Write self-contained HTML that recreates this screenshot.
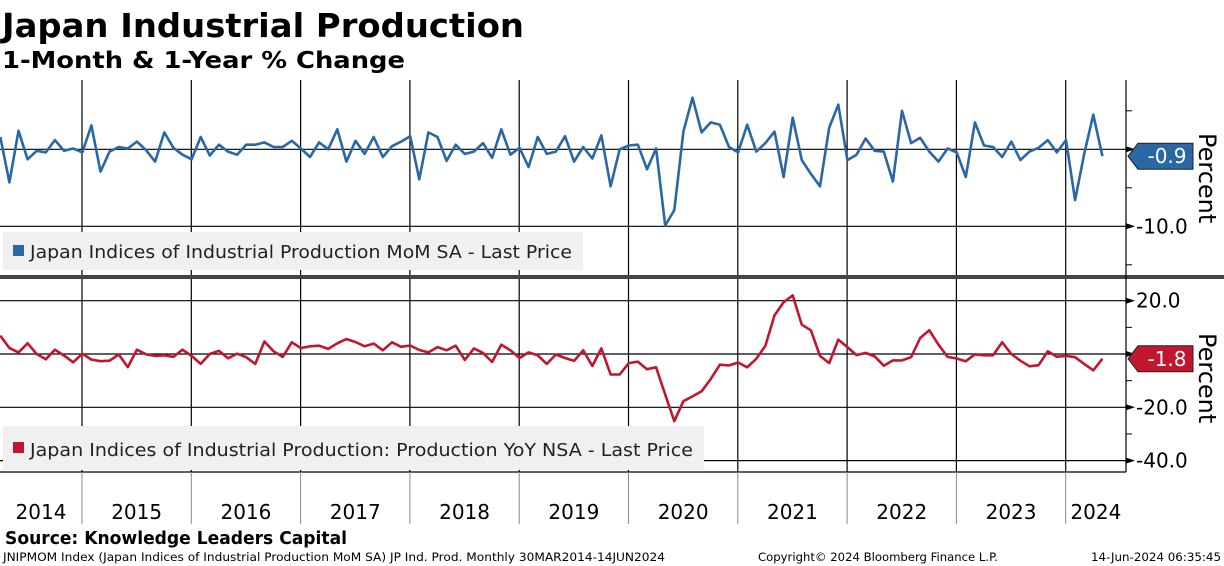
<!DOCTYPE html>
<html><head><meta charset="utf-8">
<style>
html,body{margin:0;padding:0;background:#fff;width:1224px;height:566px;overflow:hidden}
svg{display:block;font-family:"DejaVu Sans","Liberation Sans",sans-serif}
</style></head>
<body>
<svg id="c" width="1224" height="566" viewBox="0 0 1224 566" xmlns="http://www.w3.org/2000/svg">
<text x="2" y="37" font-size="33" font-weight="bold" textLength="522" lengthAdjust="spacingAndGlyphs">Japan Industrial Production</text>
<text x="2" y="68" font-size="23" font-weight="bold" textLength="403" lengthAdjust="spacingAndGlyphs">1-Month &amp; 1-Year % Change</text>
<g id="grid"></g>
<g id="series"></g>
<rect x="0" y="275" width="1224" height="4" fill="#444"/>
<rect x="3" y="232" width="580" height="38" fill="#f0f0f0"/>
<rect x="13" y="245" width="11" height="11" fill="#2a67a5"/>
<text x="30" y="258" font-size="18" textLength="542" lengthAdjust="spacingAndGlyphs" fill="#222">Japan Indices of Industrial Production MoM SA - Last Price</text>
<rect x="3" y="426" width="701" height="44" fill="#f0f0f0"/>
<rect x="13" y="442" width="11" height="11" fill="#c0172f"/>
<text x="30" y="456" font-size="18" textLength="663" lengthAdjust="spacingAndGlyphs" fill="#222">Japan Indices of Industrial Production: Production YoY NSA - Last Price</text>
<g id="axes"></g>
<text transform="translate(1199,133) rotate(90)" font-size="24">Percent</text>
<text transform="translate(1199,333) rotate(90)" font-size="24">Percent</text>
<text x="5" y="544" font-size="18" font-weight="bold" textLength="342" lengthAdjust="spacingAndGlyphs">Source: Knowledge Leaders Capital</text>
<text x="3" y="561" font-size="11.5" textLength="662" lengthAdjust="spacingAndGlyphs">JNIPMOM Index (Japan Indices of Industrial Production MoM SA) JP Ind. Prod.  Monthly 30MAR2014-14JUN2024</text>
<text x="758" y="561" font-size="11.5" textLength="240" lengthAdjust="spacingAndGlyphs">Copyright© 2024 Bloomberg Finance L.P.</text>
<text x="1091" y="561" font-size="11.5" textLength="130" lengthAdjust="spacingAndGlyphs">14-Jun-2024 06:35:45</text>
</svg>
<script>
const years = ["2014","2015","2016","2017","2018","2019","2020","2021","2022","2023","2024"];
const momValues = [1.6,-4.3,2.4,-1.3,-0.2,-0.4,1.2,-0.2,0.1,-0.4, 3.1,-2.9,-0.3,0.3,0.1,1.0,-0.1,-1.6,2.2,0.2, -0.7,-1.3,1.6,-0.8,0.6,-0.3,-0.7,0.6,0.6,0.9, 0.3,0.3,1.1,0.1,-1.0,0.9,0,2.6,-1.6,1.1, -0.6,1.6,-1.0,0.4,1.0,
 1.7,-3.9,2.2,1.6,-1.5,0.6,-0.6,-0.3,0.8,-1.1, 2.6,-0.7,0.2,-2.3,1.6,-0.6,-0.3,1.7,-1.6,0.3, -1.2,1.8,-4.8,0,0.5,0.6,-2.6,0.1,-9.9,-7.9, 2.3,6.7,2.2,3.5,3.2,0.3,-0.4,3.2,-0.3,0.8, 2.3,-3.6,4.1,-1.4,-3.2,
 -4.8,2.8,5.8,-1.4,-0.7,1.4,-0.2,-0.3,-4.2,5.0, 0.8,1.5,-0.3,-1.6,0.1,-0.4,-3.6,3.5,0.5,0.3, -1.0,1.0,-1.4,-0.3,0.2,1.2,-0.4,1.2,-6.6,-0.6, 4.5,-0.9];
const yoyValues = [6.9,2.2,0.6,4.0,0,-2.0,1.6,-0.6,-3.1,0.1, -2.1,-2.7,-2.5,-0.2,-4.9,1.6,-0.1,-0.7,-0.5,-1.1, 1.6,-0.7,-3.7,0,1.2,-1.6,0.1,-1.2,-3.7,4.7, 1.0,-1.1,4.4,2.2,2.9,3.1,1.9,4.0,5.6,4.5, 2.9,3.9,1.4,4.4,2.7,
 3.2,1.5,0.6,2.6,1.4,3.1,-2.2,2.1,0.4,-3.0, 3.5,1.4,-1.5,0.6,-0.5,-3.7,-0.2,-1.5,-2.6,1.4, -4.5,2.1,-7.7,-7.7,-3.4,-2.9,-5.7,-5.0,-15.2,-25.2, -17.7,-15.9,-14,-9.4,-4,-4.3,-3.2,-5,-1.8,3.1, 14.5,19.4,22,11,8.9,-0.7,-3.4,
 5.4,2.6,-0.4,0.4,-0.9,-4.4,-2.4,-2.4,-1.2,6.0, 8.9,3.5,-1.1,-1.7,-2.7,-0.1,-0.5,-0.5,4.4,0, -2.5,-4.6,-4.2,1.0,-1.0,-0.7,-1.2,-3.7,-6.1,-1.8];
const momTicks = [0,-10];
const yoyTicks = [20,0,-20,-40];
const yoyTickLabels = ["20.0","","-20.0","-40.0"];

const NS="http://www.w3.org/2000/svg";
const MONTH=109.3/12, X0=0.3;
const xAt = i => X0 + i*MONTH;
const yearX = k => 82 + (k-1)*109.3; // start of years[k]
const yTop = v => 149.3 - v*7.7;
const yBot = v => 354 - v*2.665;
const AX=1126;
function mk(tag, attrs, parent){const e=document.createElementNS(NS,tag);for(const k in attrs)e.setAttribute(k,attrs[k]);parent.appendChild(e);return e;}
const grid=document.getElementById('grid'), ser=document.getElementById('series'), axes=document.getElementById('axes');

// horizontal gridlines
[0,-10].forEach(v=>{const l=mk('line',{x1:0,x2:AX,y1:yTop(v),y2:yTop(v),stroke:'#000','stroke-width':1.2},grid);

});
yoyTicks.forEach(v=>{const l=mk('line',{x1:0,x2:AX,y1:yBot(v),y2:yBot(v),stroke:'#000','stroke-width':1.2},grid);

});
// bottom frame line
const bl=mk('line',{x1:0,x2:AX,y1:472,y2:472,stroke:'#000','stroke-width':1.2},grid);


// year lines and labels
years.forEach((yr,k)=>{
  if(k>0){
    const x=yearX(k);
    const v=mk('line',{x1:x,x2:x,y1:80,y2:472,stroke:'#000','stroke-width':1.2},grid);
    
    
    const s=mk('line',{x1:x,x2:x,y1:472,y2:524,stroke:'#888','stroke-width':1},grid);
    
    
  }
  const start = k===0?0:yearX(k), end = k===years.length-1?AX:yearX(k+1);
  const t=mk('text',{x:(start+end)/2,y:519,'font-size':20,'text-anchor':'middle'},axes);
  t.textContent=yr;
  
  
});
// right axis
const ra=mk('line',{x1:AX,x2:AX,y1:80,y2:472,stroke:'#000','stroke-width':1.2},axes);


[5,-5,-15].forEach(v=>{const m=mk('line',{x1:AX,x2:AX+6,y1:yTop(v),y2:yTop(v),stroke:'#000'},axes);

});
[10,-10,-30].forEach(v=>{const m=mk('line',{x1:AX,x2:AX+6,y1:yBot(v),y2:yBot(v),stroke:'#000'},axes);

});
function major(y,label){
  const a=mk('path',{d:`M${AX} ${y-3}L${AX+9} ${y}L${AX} ${y+3}Z`,fill:'#000'},axes);
  
  
  if(label){const t=mk('text',{x:AX+10,y:y+7,'font-size':20},axes);t.textContent=label;
  
  }
}
momTicks.forEach(v=>major(yTop(v), v===0?'':'-10.0'));
yoyTicks.forEach((v,i)=>major(yBot(v), yoyTickLabels[i]));
// series
function line(vals, yf, color, name){
  const d=vals.map((v,i)=>(i?'L':'M')+xAt(i).toFixed(1)+' '+yf(v).toFixed(1)).join('');
  const p=mk('path',{d:d,fill:'none',stroke:color,'stroke-width':2.6,'stroke-linejoin':'round'},ser);
  
  
}
line(momValues,yTop,'#2a67a5','mom-line');
line(yoyValues,yBot,'#c0172f','yoy-line');
// last value tags
function tag(v,yf,color,name){
  const y=yf(v);
  const g=mk('path',{d:`M${AX+2} ${y}L${AX+12} ${y-13}L${AX+67} ${y-13}L${AX+67} ${y+13}L${AX+12} ${y+13}Z`,fill:color,stroke:'#222','stroke-width':1},axes);
  
  
  const t=mk('text',{x:AX+41,y:y+7,'font-size':20,'text-anchor':'middle',fill:'#fff'},axes);
  t.textContent=v.toFixed(1);
  
  
}
tag(momValues[momValues.length-1],yTop,'#2a67a5','last-value-mom');
tag(yoyValues[yoyValues.length-1],yBot,'#c0172f','last-value-yoy');
</script>
</body></html>
